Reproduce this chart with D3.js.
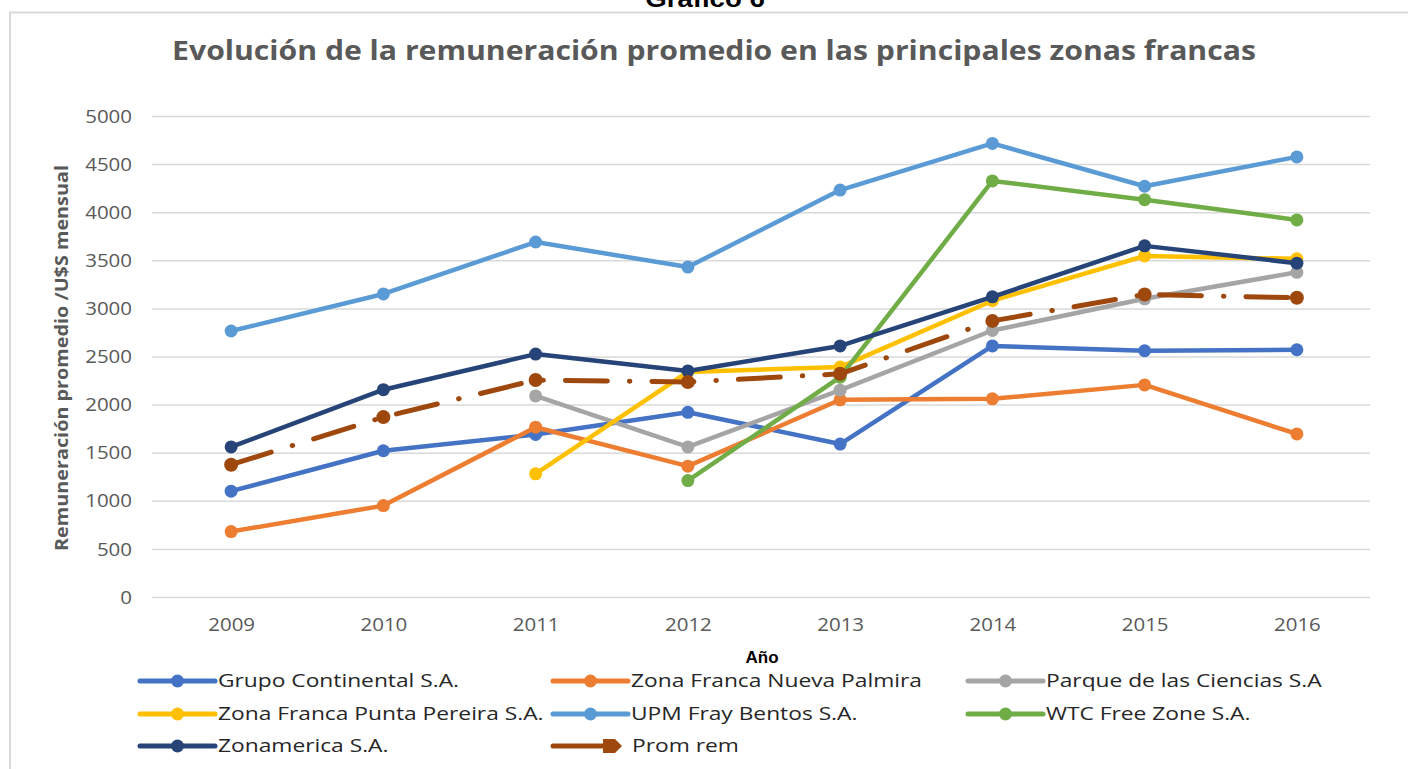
<!DOCTYPE html>
<html><head><meta charset="utf-8">
<script src="https://cdn.jsdelivr.net/npm/d3@7"></script>
<style>html,body{margin:0;padding:0;background:#fff;overflow:hidden}</style>
</head><body>
<svg id="chart" width="1408" height="769"></svg>
<script>
const years = ['2009','2010','2011','2012','2013','2014','2015','2016'];
const yTicks = [0,500,1000,1500,2000,2500,3000,3500,4000,4500,5000];
const seriesNames = ['Grupo Continental S.A.','Zona Franca Nueva Palmira','Parque de las Ciencias S.A','Zona Franca Punta Pereira S.A.','UPM Fray Bentos S.A.','WTC Free Zone S.A.','Zonamerica S.A.','Prom rem'];
const seriesColors = ['#4472c4','#ed7d31','#a5a5a5','#ffc000','#5b9bd5','#70ad47','#264478','#9e480e'];
const grupoContinental = [1100,1520,1690,1920,1590,2610,2560,2570];
const nuevaPalmira     = [680,950,1765,1360,2050,2060,2205,1695];
const parqueCiencias   = [null,null,2090,1560,2150,2770,3100,3375];
const puntaPereira     = [null,null,1280,2340,2390,3080,3545,3515];
const upmFrayBentos    = [2765,3150,3690,3430,4230,4715,4270,4575];
const wtcFreeZone      = [null,null,null,1210,2285,4325,4130,3920];
const zonamerica       = [1560,2155,2525,2350,2610,3120,3650,3470];
const promRem          = [1375,1870,2255,2235,2320,2870,3145,3110];
const seriesValues = [grupoContinental,nuevaPalmira,parqueCiencias,puntaPereira,upmFrayBentos,wtcFreeZone,zonamerica,promRem];
const titleText = 'Evolución de la remuneración promedio en las principales zonas francas';
const yTitle = 'Remuneración promedio /U$S mensual';
const xTitle = 'Año';
const topCaption = 'Gráfico 6';

const svg = d3.select('#chart');
const FONT = "'Open Sans', 'Noto Sans', sans-serif";
const SX = 1.17;
function stretch(sel, k){ sel.each(function(){ const w=this.getComputedTextLength(); d3.select(this).attr('textLength', w*k).attr('lengthAdjust','spacingAndGlyphs'); }); return sel; }

// outer border
svg.append('rect').attr('x',10).attr('y',12.5).attr('width',1420).attr('height',800)
  .attr('fill','none').attr('stroke','#d9d9d9').attr('stroke-width',2);

// caption above the chart (cut off at the top edge, as in the source)
stretch(svg.append('text').attr('x',705).attr('y',7).attr('text-anchor','middle')
  .attr('font-family',"'Liberation Sans', Arial, sans-serif").attr('font-weight','bold').attr('font-size',24)
  .attr('fill','#000').text(topCaption), 1.15);

// title
stretch(svg.append('text').attr('x',714).attr('y',60).attr('text-anchor','middle')
  .attr('font-family',FONT).attr('font-weight','bold').attr('font-size',26)
  .attr('fill','#595959').text(titleText), 1.16);

const x = d3.scalePoint().domain(years).range([155,1373]).padding(0.5);
const y = d3.scaleLinear().domain([0,5000]).range([597,116]);

// grid + y axis
const yAxis = d3.axisLeft(y).tickValues(yTicks).tickFormat(d3.format('d')).tickSize(-(1370-152)).tickPadding(20);
const gy = svg.append('g').attr('transform','translate(152,0)').call(yAxis);
gy.select('.domain').remove();
gy.selectAll('.tick line').attr('stroke','#d9d9d9').attr('stroke-width',1.5);
gy.selectAll('.tick text').attr('font-family',FONT).attr('font-size',17.5).attr('fill','#595959')
  .attr('x',-20).attr('dy','0.35em');
stretch(gy.selectAll('.tick text'), SX);

const xAxis = d3.axisBottom(x).tickSize(0).tickPadding(22);
const gx = svg.append('g').attr('transform','translate(0,597)').call(xAxis);
gx.select('.domain').remove();
gx.selectAll('.tick text').attr('font-family',FONT).attr('font-size',17.5).attr('fill','#595959');
stretch(gx.selectAll('.tick text'), SX);

// axis titles
stretch(svg.append('text').attr('transform','translate(68,358) rotate(-90)').attr('text-anchor','middle')
  .attr('font-family',FONT).attr('font-weight','bold').attr('font-size',18).attr('fill','#595959').text(yTitle), 1.1);
svg.append('text').attr('x',762).attr('y',663).attr('text-anchor','middle')
  .attr('font-family',"'Liberation Sans', Arial, sans-serif").attr('font-weight','bold').attr('font-size',17).attr('fill','#000').text(xTitle);

// series
const line = d3.line().defined(d=>d.v!=null).x(d=>x(d.yr)).y(d=>y(d.v));
seriesNames.forEach((name,i)=>{
  const data = years.map((yr,j)=>({yr, v: seriesValues[i][j]}));
  const g = svg.append('g');
  const isAvg = name==='Prom rem';
  g.append('path').datum(data).attr('d',line).attr('fill','none')
    .attr('stroke',seriesColors[i]).attr('stroke-width',isAvg?5:4.5)
    .attr('stroke-linejoin','round').attr('stroke-linecap','round')
    .attr('stroke-dasharray', isAvg ? '42 22 0.5 22' : null);
  g.selectAll('circle').data(data.filter(d=>d.v!=null)).join('circle')
    .attr('cx',d=>x(d.yr)).attr('cy',d=>y(d.v)).attr('r',isAvg?7:6.5).attr('fill',seriesColors[i]);
});

// legend
const colX = [140,553,968];
const rowY = [681,714,746];
seriesNames.forEach((name,i)=>{
  const cx = colX[i%3], cy = rowY[Math.floor(i/3)];
  const g = svg.append('g');
  const isAvg = name==='Prom rem';
  g.append('line').attr('x1',cx).attr('x2',isAvg?cx+55:cx+75).attr('y1',cy).attr('y2',cy)
    .attr('stroke',seriesColors[i]).attr('stroke-width',5).attr('stroke-linecap','round');
  if(isAvg){
    g.append('path').attr('d',`M${cx+50},${cy-7}L${cx+62},${cy-7}L${cx+69},${cy}L${cx+62},${cy+7}L${cx+50},${cy+7}Z`).attr('fill',seriesColors[i]);
  } else {
    g.append('circle').attr('cx',cx+37.5).attr('cy',cy).attr('r',6.5).attr('fill',seriesColors[i]);
  }
  stretch(g.append('text').attr('x',isAvg?cx+79:cx+78).attr('y',cy).attr('dy','0.35em')
    .attr('font-family',FONT).attr('font-size',18.5).attr('fill','#262626').text(name), 1.23);
});
</script>
</body></html>
